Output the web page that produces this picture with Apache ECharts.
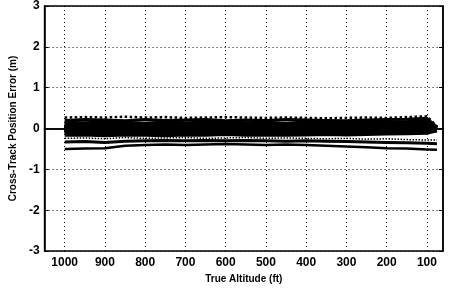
<!DOCTYPE html>
<html><head><meta charset="utf-8">
<script src="https://cdn.jsdelivr.net/npm/echarts@6/dist/echarts.min.js"></script>
<style>html,body{margin:0;padding:0;background:#fff}#c{width:450px;height:289px}</style>
</head><body><div id="c"></div>
<script>
const altitudes = [1000,950,900,850,800,750,700,650,600,550,500,450,400,350,300,250,200,150,100,75];
const xTicks = [1000,900,800,700,600,500,400,300,200,100];
const topDotted  = [0.27,0.28,0.27,0.29,0.27,0.28,0.26,0.27,0.28,0.27,0.26,0.27,0.26,0.25,0.26,0.27,0.26,0.28,0.30,0.05];
const upper1     = [0.20,0.22,0.21,0.19,0.22,0.20,0.21,0.22,0.19,0.21,0.20,0.22,0.21,0.20,0.19,0.21,0.22,0.23,0.25,0.03];
const upper2     = [0.14,0.13,0.15,0.14,0.12,0.15,0.13,0.14,0.15,0.13,0.14,0.12,0.15,0.14,0.13,0.14,0.15,0.16,0.18,0.02];
const core1      = [0.08,0.07,0.09,0.06,0.08,0.07,0.09,0.08,0.06,0.08,0.07,0.09,0.08,0.07,0.09,0.08,0.10,0.11,0.12,0.00];
const core2      = [0.02,0.01,0.03,0.02,0.00,0.02,0.01,0.03,0.02,0.01,0.03,0.02,0.01,0.02,0.03,0.02,0.04,0.05,0.06,-0.02];
const core3      = [-0.04,-0.05,-0.03,-0.05,-0.04,-0.06,-0.04,-0.05,-0.03,-0.05,-0.04,-0.05,-0.04,-0.03,-0.04,-0.03,-0.02,-0.01,0.00,-0.03];
const core4      = [-0.10,-0.11,-0.09,-0.10,-0.12,-0.10,-0.11,-0.09,-0.10,-0.11,-0.10,-0.09,-0.11,-0.10,-0.09,-0.08,-0.08,-0.07,-0.06,-0.04];
const core5      = [-0.16,-0.15,-0.17,-0.15,-0.16,-0.17,-0.15,-0.16,-0.14,-0.16,-0.15,-0.16,-0.15,-0.14,-0.15,-0.14,-0.13,-0.12,-0.11,-0.05];
const lowDotted  = [-0.24,-0.23,-0.25,-0.22,-0.24,-0.23,-0.22,-0.24,-0.23,-0.22,-0.24,-0.23,-0.24,-0.25,-0.24,-0.26,-0.25,-0.27,-0.28,-0.28];
const lower1     = [-0.33,-0.32,-0.34,-0.31,-0.30,-0.29,-0.30,-0.29,-0.30,-0.29,-0.30,-0.31,-0.30,-0.31,-0.32,-0.33,-0.34,-0.35,-0.36,-0.37];
const lowest     = [-0.50,-0.49,-0.48,-0.42,-0.40,-0.39,-0.40,-0.39,-0.38,-0.39,-0.40,-0.39,-0.40,-0.42,-0.44,-0.46,-0.48,-0.49,-0.51,-0.52];
const yTitle = 'Cross-Track Position Error (m)';
const xTitle = 'True Altitude (ft)';

const seriesDefs = [
  [topDotted, 2.5, 'dotted'],
  [upper1, 3, 'solid'],
  [upper2, 4, 'solid'],
  [core1, 4, 'solid'],
  [core2, 4, 'solid'],
  [core3, 4, 'solid'],
  [core4, 4, 'solid'],
  [core5, 3.5, 'solid'],
  [lowDotted, 1.5, 'dotted'],
  [lower1, 3, 'solid'],
  [lowest, 2.5, 'solid']
];
const font = {fontFamily:'Liberation Sans', fontWeight:'bold', color:'#000'};
const chart = echarts.init(document.getElementById('c'));
chart.setOption({
  animation:false,
  backgroundColor:'#fff',
  grid:{left:32,right:7,top:5,bottom:31,show:true,borderColor:'#000',borderWidth:1.5},
  xAxis:[{
    type:'value', inverse:true, min:60, max:1050,
    name:xTitle, nameLocation:'middle', nameGap:19,
    nameTextStyle:Object.assign({fontSize:10},font),
    axisLine:{lineStyle:{color:'#000',width:1.5}},
    axisTick:{inside:true,length:4,customValues:xTicks,lineStyle:{color:'#000'}},
    axisLabel:Object.assign({fontSize:12,margin:6,customValues:xTicks,formatter:v=>String(v)},font),
    splitLine:{show:true,lineStyle:{color:'#000',type:[1,3],width:1}}
  },{
    type:'value', inverse:true, min:60, max:1050, position:'top',
    axisLine:{lineStyle:{color:'#000',width:1.5}},
    axisTick:{inside:true,length:4,customValues:xTicks,lineStyle:{color:'#000'}},
    axisLabel:{show:false}, splitLine:{show:false}
  }],
  yAxis:[{
    type:'value', min:-3, max:3, interval:1,
    name:yTitle, nameLocation:'middle', nameGap:20,
    nameTextStyle:Object.assign({fontSize:10},font),
    axisLine:{show:true,lineStyle:{color:'#000',width:1.5}},
    axisTick:{show:true,inside:true,length:4,lineStyle:{color:'#000'}},
    axisLabel:Object.assign({fontSize:12,margin:5},font),
    splitLine:{show:true,lineStyle:{color:'#000',type:[1,3],width:1}}
  },{
    type:'value', min:-3, max:3, interval:1, position:'right',
    axisLine:{show:true,lineStyle:{color:'#000',width:1.5}},
    axisTick:{show:true,inside:true,length:4,lineStyle:{color:'#000'}},
    axisLabel:{show:false}, splitLine:{show:false}
  }],
  series: seriesDefs.map(([vals,w,t]) => ({
    type:'line', xAxisIndex:0, yAxisIndex:0, symbol:'none', smooth:false,
    data: altitudes.map((a,i)=>[a, vals[i]]),
    lineStyle:{color:'#000', width:w, type:t}
  }))
});
</script></body></html>
